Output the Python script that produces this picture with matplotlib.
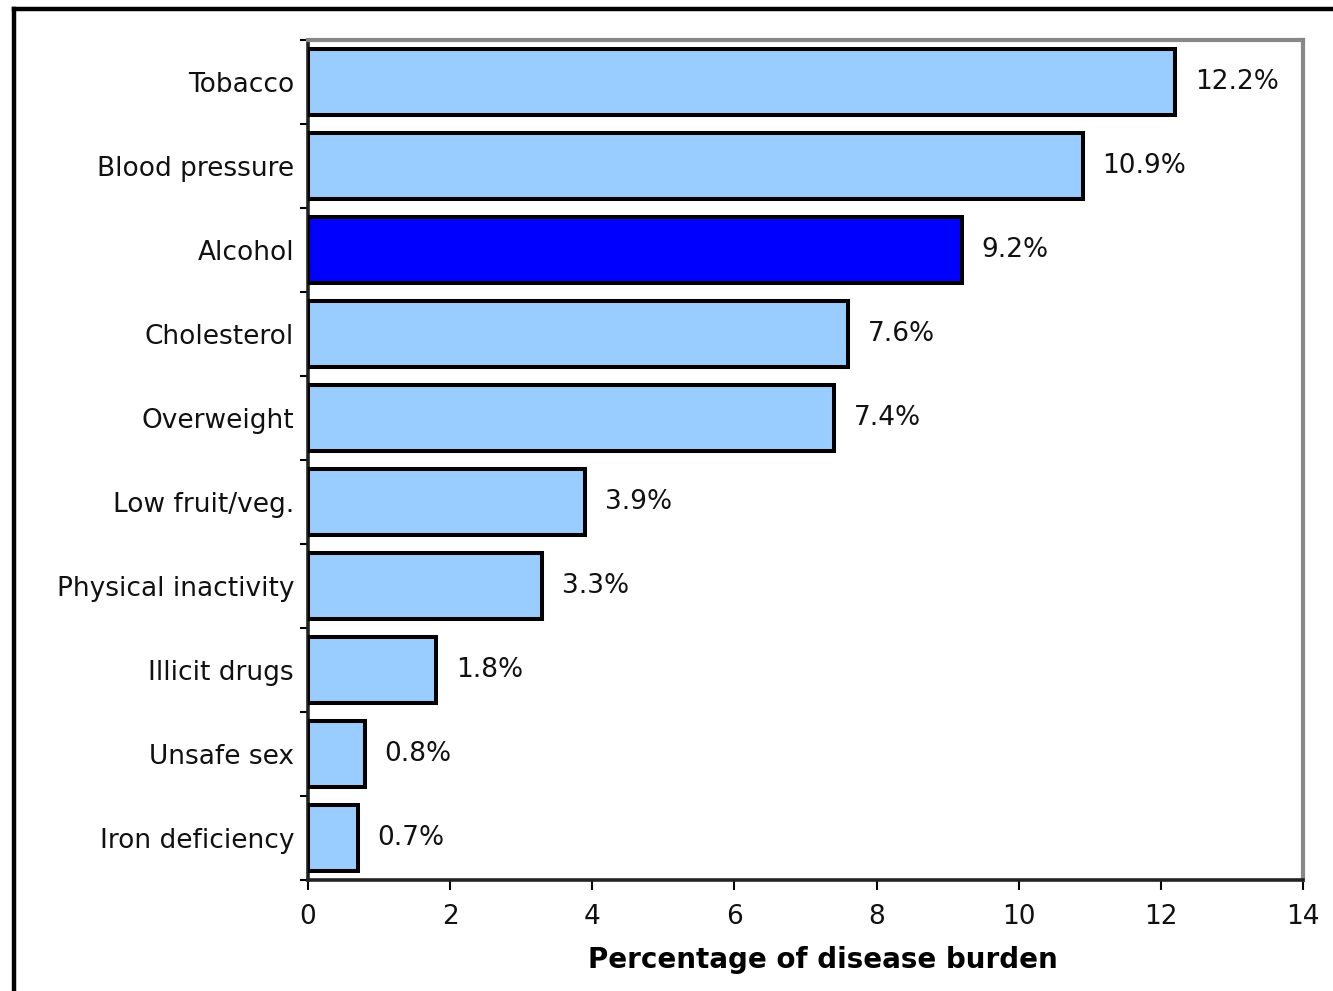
import numpy as np
import matplotlib
matplotlib.use('Agg')
import matplotlib.pyplot as plt
from matplotlib.lines import Line2D

# data, top to bottom
categories = ['Tobacco', 'Blood pressure', 'Alcohol', 'Cholesterol', 'Overweight',
              'Low fruit/veg.', 'Physical inactivity', 'Illicit drugs', 'Unsafe sex',
              'Iron deficiency']
values = [12.2, 10.9, 9.2, 7.6, 7.4, 3.9, 3.3, 1.8, 0.8, 0.7]
highlight = 'Alcohol'
x_ticks = [0, 2, 4, 6, 8, 10, 12, 14]

plt.rcParams['font.family'] = ['DejaVu Sans']

fig = plt.figure(figsize=(13.33, 9.91), dpi=100)
ax = fig.add_axes([0.231, 0.112, 0.7465, 0.8476])

n = len(categories)
ypos = np.arange(n)
colors = ['#0000FF' if c == highlight else '#99CCFF' for c in categories]
ax.barh(ypos, values, height=0.78, color=colors, edgecolor='black', linewidth=2.9, zorder=3)

for y, v in zip(ypos, values):
    ax.text(v + 0.28, y, f'{v:.1f}%', va='center', ha='left', fontsize=19, color='#111111')

ax.set_ylim(n - 0.5, -0.5)
ax.set_xlim(0, 14)
ax.set_yticks(ypos)
ax.set_yticklabels(categories, fontsize=19, color='#111111')
ax.set_yticks(np.arange(n + 1) - 0.5, minor=True)
ax.tick_params(axis='y', which='major', length=0, pad=10)
ax.tick_params(axis='y', which='minor', length=6, width=1.5, direction='out')
ax.set_xticks(x_ticks)
ax.set_xticklabels([str(t) for t in x_ticks], fontsize=19, color='#111111')
ax.tick_params(axis='x', length=7, width=1.5, pad=10)
ax.set_xlabel('Percentage of disease burden', fontsize=20, fontweight='bold')
ax.xaxis.set_label_coords(0.517, -0.078)

for side in ['left', 'bottom']:
    ax.spines[side].set_color('#222222')
    ax.spines[side].set_linewidth(2.6)
for side in ['top', 'right']:
    ax.spines[side].set_color('#888888')
    ax.spines[side].set_linewidth(3)

# outer frame (left and top visible)
fig.add_artist(Line2D([0.0105, 0.0105], [0, 0.991], transform=fig.transFigure,
                      color='black', linewidth=3.2))
fig.add_artist(Line2D([0.0105, 1.0], [0.991, 0.991], transform=fig.transFigure,
                      color='black', linewidth=3.2))

plt.savefig('out.png', dpi=100)
